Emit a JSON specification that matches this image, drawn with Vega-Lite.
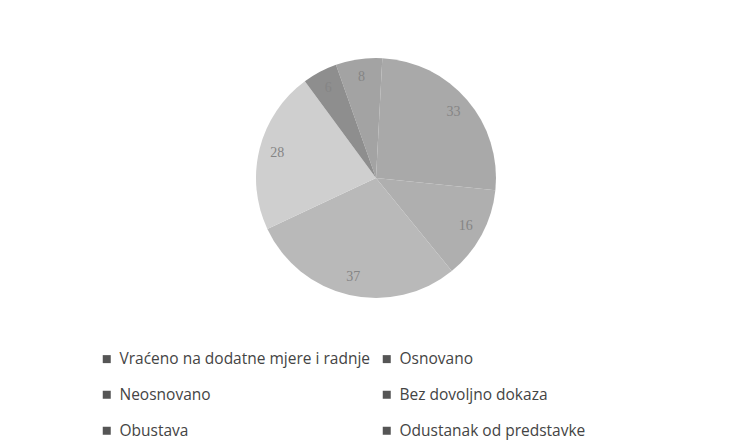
{
  "$schema": "https://vega.github.io/schema/vega-lite/v6.json",
  "width": 240,
  "height": 240,
  "autosize": {"type": "none"},
  "padding": {"left": 256, "top": 58, "right": 237, "bottom": 150},
  "background": "white",
  "data": {
    "values": [
      {"kategorija": "Vraćeno na dodatne mjere i radnje", "broj": 8, "red": 1},
      {"kategorija": "Osnovano", "broj": 33, "red": 2},
      {"kategorija": "Neosnovano", "broj": 16, "red": 3},
      {"kategorija": "Bez dovoljno dokaza", "broj": 37, "red": 4},
      {"kategorija": "Obustava", "broj": 28, "red": 5},
      {"kategorija": "Odustanak od predstavke", "broj": 6, "red": 6}
    ]
  },
  "layer": [
    {
      "mark": {"type": "arc", "outerRadius": 120},
      "encoding": {
        "theta": {"field": "broj", "type": "quantitative", "stack": true, "scale": {"range": [-0.34, 5.9432]}},
        "order": {"field": "red", "type": "quantitative"},
        "color": {
          "field": "kategorija",
          "type": "nominal",
          "legend": null,
          "scale": {
            "domain": ["Vraćeno na dodatne mjere i radnje", "Osnovano", "Neosnovano", "Bez dovoljno dokaza", "Obustava", "Odustanak od predstavke"],
            "range": ["#a3a3a3", "#a9a9a9", "#afafaf", "#b9b9b9", "#cfcfcf", "#8e8e8e"]
          }
        }
      }
    },
    {
      "mark": {"type": "text", "radius": 102, "font": "Liberation Serif", "fontSize": 14, "fill": "#858585"},
      "encoding": {
        "theta": {"field": "broj", "type": "quantitative", "stack": true},
        "order": {"field": "red", "type": "quantitative"},
        "text": {"field": "broj", "type": "quantitative"}
      }
    },
    {
      "transform": [{"filter": "false"}],
      "mark": {"type": "square"},
      "encoding": {
        "fill": {
          "field": "kategorija",
          "type": "nominal",
          "scale": {
            "domain": ["Vraćeno na dodatne mjere i radnje", "Neosnovano", "Obustava", "Osnovano", "Bez dovoljno dokaza", "Odustanak od predstavke"],
            "range": ["#555555", "#555555", "#555555", "#555555", "#555555", "#555555"]
          },
          "legend": {
            "title": null,
            "orient": "none",
            "legendX": -157,
            "legendY": 293,
            "columns": 2,
            "columnPadding": 8,
            "rowPadding": 19,
            "symbolType": "square",
            "symbolSize": 64,
            "symbolStrokeWidth": 0,
            "symbolOpacity": 1,
            "labelFont": "Open Sans",
            "labelFontSize": 15.5,
            "labelColor": "#444444",
            "labelOffset": 5,
            "labelLimit": 400
          }
        }
      }
    }
  ],
  "resolve": {"scale": {"color": "independent", "fill": "independent"}}
}
